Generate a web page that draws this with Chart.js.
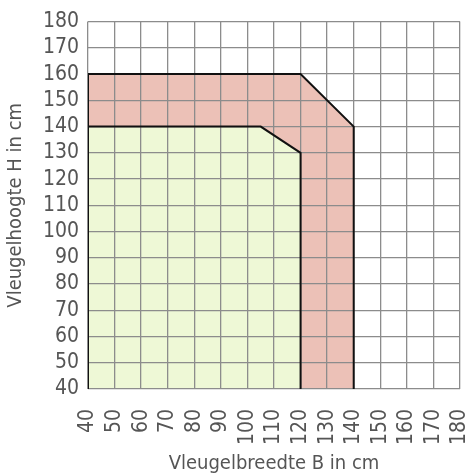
<!DOCTYPE html>
<html>
<head>
<meta charset="utf-8">
<script src="https://cdn.jsdelivr.net/npm/chart.js@4"></script>
<style>
  html, body { margin: 0; padding: 0; background: #fff; }
  #wrap { width: 471px; height: 476px; }
</style>
</head>
<body>
<div id="wrap"><canvas id="vleugelChart"></canvas></div>
<script>
// Vleugelbreedte (B) en -hoogte (H) in cm
const redB = [40, 40, 120, 140, 140];
const redH = [40, 160, 160, 140, 40];
const greenB = [40, 40, 105, 120, 120];
const greenH = [40, 140, 140, 130, 40];
const tickMin = 40;
const tickMax = 180;
const tickStep = 10;

const toPoints = (xs, ys) => xs.map((x, i) => ({ x: x, y: ys[i] }));

const fontFamily = "'DejaVu Sans Condensed', 'Liberation Sans', sans-serif";
const textColor = '#555555';
const gridColor = '#8c8c8c';

const ctx = document.getElementById('vleugelChart').getContext('2d');
const chart = new Chart(ctx, {
    type: 'scatter',
    data: {
        datasets: [
            {
                label: 'groen',
                data: toPoints(greenB, greenH),
                showLine: true,
                borderColor: '#111111',
                borderWidth: 2,
                backgroundColor: '#eef8d6',
                pointRadius: 0,
                fill: 'start',
                order: 1,
            },
            {
                label: 'rood',
                data: toPoints(redB, redH),
                showLine: true,
                borderColor: '#111111',
                borderWidth: 2,
                backgroundColor: '#ecc1b7',
                pointRadius: 0,
                fill: 'start',
                order: 2,
            },
        ],
    },
    options: {
        responsive: true,
        maintainAspectRatio: false,
        animation: false,
        layout: {
            padding: { top: 8, right: 11, left: 4, bottom: 0 },
        },
        plugins: {
            legend: { display: false },
            tooltip: { enabled: false },
            filler: { drawTime: 'beforeDraw' }, // vlakken onder het raster
        },
        scales: {
            x: {
                type: 'linear',
                min: tickMin,
                max: tickMax,
                grid: { color: gridColor, lineWidth: 1.3, drawTicks: false },
                border: { display: false },
                afterFit: (scale) => {
                    scale.height = 87;
                    scale.paddingLeft = 0;
                    scale.paddingRight = 0;
                },
                ticks: {
                    stepSize: tickStep,
                    autoSkip: false,
                    minRotation: 90,
                    maxRotation: 90,
                    padding: 20,
                    color: textColor,
                    font: { family: fontFamily, size: 21 },
                },
                title: {
                    display: true,
                    text: 'Vleugelbreedte B in cm',
                    color: textColor,
                    font: { family: fontFamily, size: 20 },
                    padding: { top: 6, bottom: 0 },
                },
            },
            y: {
                type: 'linear',
                min: tickMin,
                max: tickMax,
                grid: { color: gridColor, lineWidth: 1.3, drawTicks: false },
                border: { display: false },
                afterFit: (scale) => {
                    scale.width = 84;
                },
                ticks: {
                    stepSize: tickStep,
                    autoSkip: false,
                    padding: 9,
                    color: textColor,
                    font: { family: fontFamily, size: 21 },
                },
                title: {
                    display: true,
                    text: 'Vleugelhoogte H in cm',
                    color: textColor,
                    font: { family: fontFamily, size: 20 },
                    padding: { top: 0, bottom: 4 },
                },
            },
        },
    },
});
</script>
</body>
</html>
